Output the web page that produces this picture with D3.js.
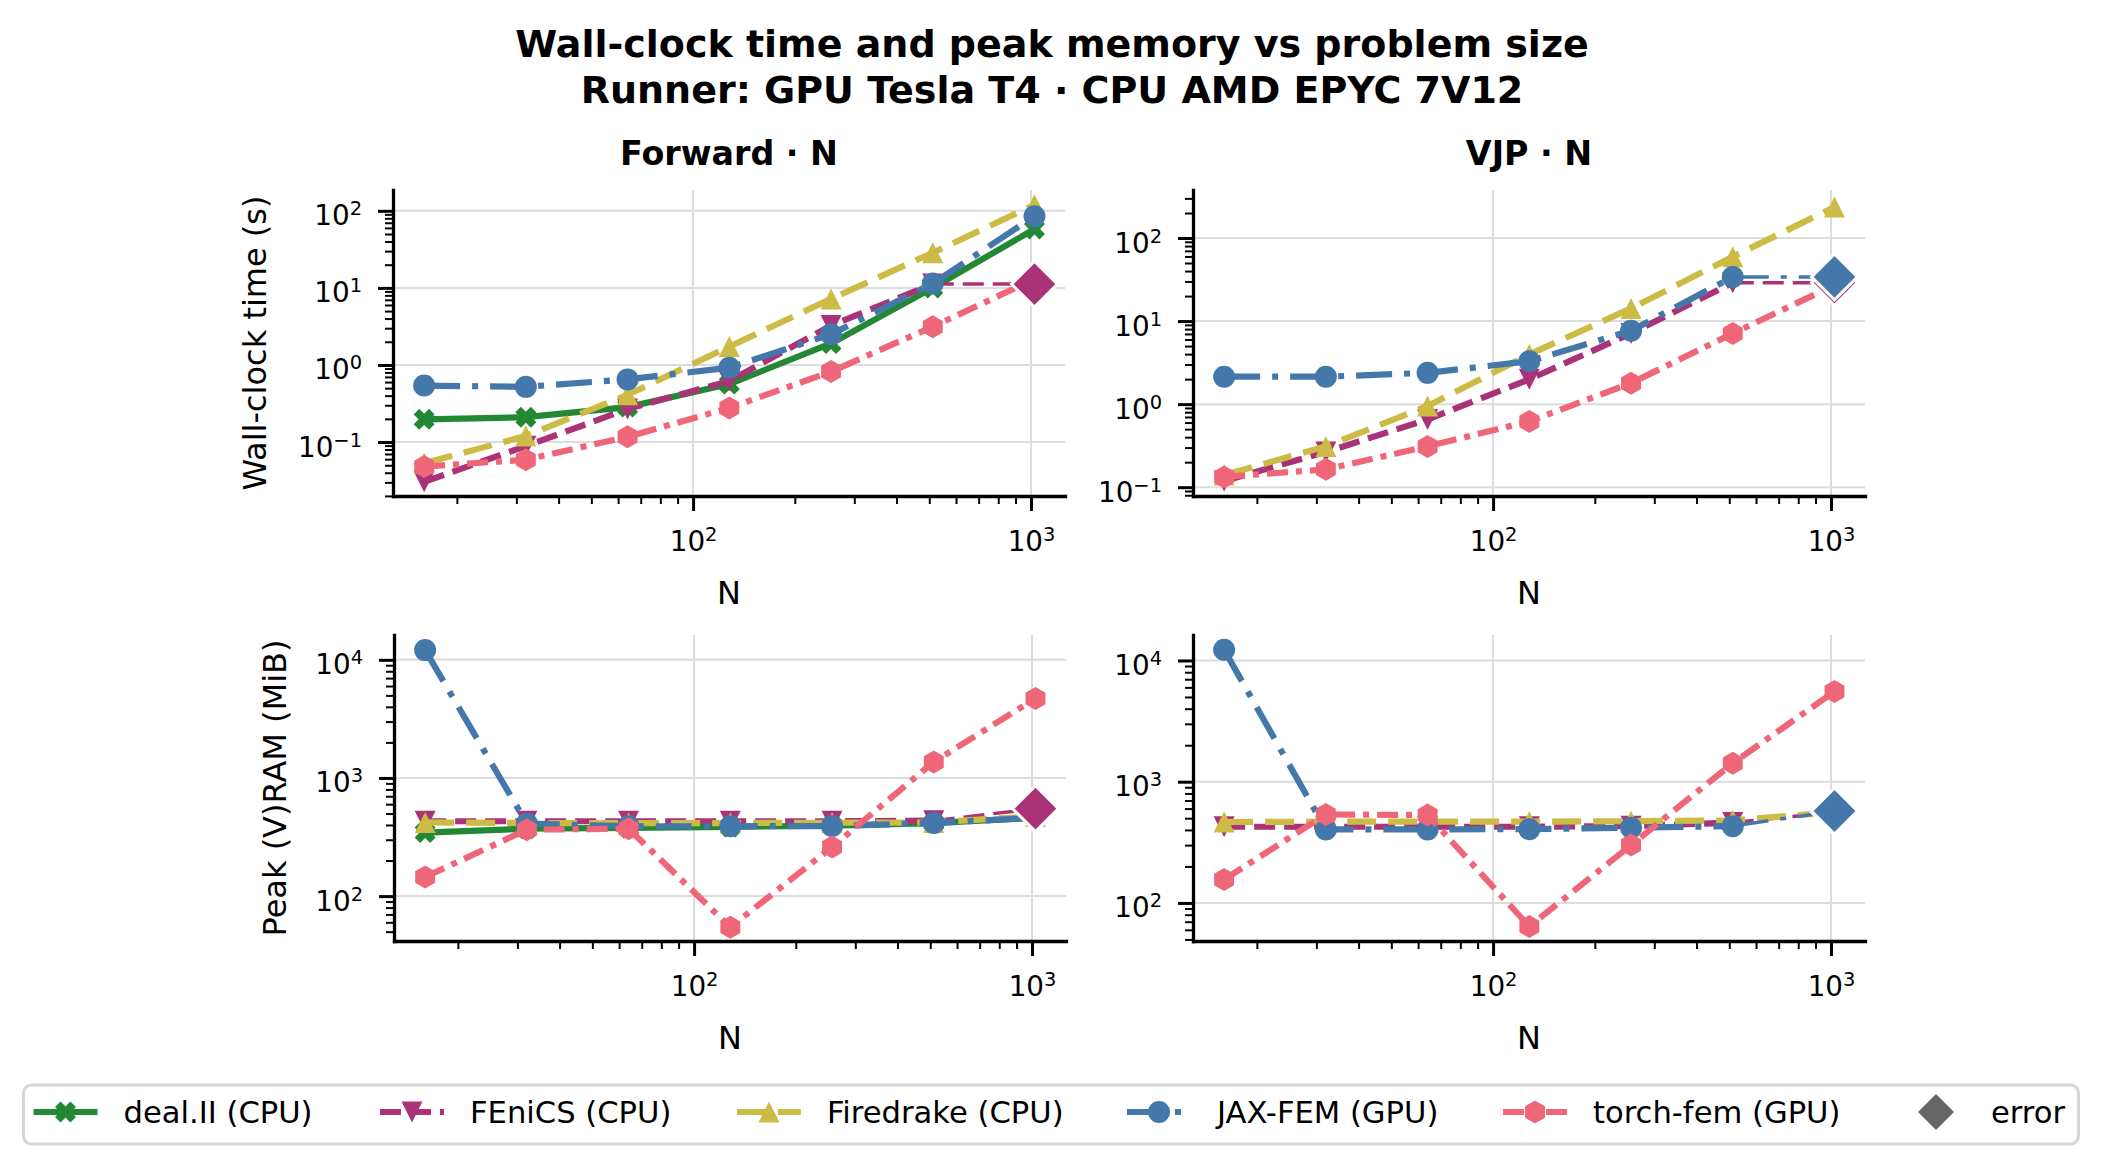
<!DOCTYPE html>
<html>
<head>
<meta charset="utf-8">
<script src="https://cdn.jsdelivr.net/npm/d3@7"></script>
<style>
  body { margin: 0; background: #fff; }
  svg { display: block; }
  text { font-family: "DejaVu Sans", sans-serif; fill: #000; }
</style>
</head>
<body>
<div id="container"></div>
<script>
"use strict";

// ---- data ----
const sizes = [16, 32, 64, 128, 256, 512, 1024];
const libraries = ["deal.II (CPU)", "FEniCS (CPU)", "Firedrake (CPU)", "JAX-FEM (GPU)", "torch-fem (GPU)"];
const libColors = ["#228833", "#AA3377", "#CCBB44", "#4477AA", "#EE6677"];

// rows follow `libraries`; null = no result
const fwdTime = [
  [0.197, 0.21, 0.284, 0.565, 1.9, 10, 58],
  [0.0305, 0.0885, 0.268, 0.62, 3.25, 11.2, null],
  [0.053, 0.12, 0.41, 1.73, 7.2, 28.6, 120],
  [0.54, 0.52, 0.65, 0.92, 2.5, 11.4, 85],
  [0.048, 0.059, 0.117, 0.277, 0.82, 3.14, 13],
];
const vjpTime = [
  [null, null, null, null, null, null, null],
  [0.119, 0.265, 0.653, 1.99, 7.1, 29, null],
  [0.14, 0.31, 0.95, 3.97, 14.2, 59.5, 236],
  [2.14, 2.14, 2.38, 3.28, 7.66, 34, null],
  [0.133, 0.164, 0.31, 0.62, 1.79, 7.1, 27],
];
const fwdMem = [
  [345, 372, 378, 385, 395, 415, 460],
  [430, 430, 430, 430, 430, 435, null],
  [420, 415, 415, 415, 418, 420, 475],
  [12080, 411, 390, 390, 392, 416, 460],
  [145, 365, 372, 54.6, 260, 1368, 4710],
];
const vjpMem = [
  [null, null, null, null, null, null, null],
  [425, 425, 425, 425, 430, 460, null],
  [465, 468, 468, 468, 472, 480, 560],
  [12250, 404, 404, 406, 417, 430, null],
  [156, 537, 531, 64, 300, 1420, 5550],
];

// error markers at N = 1024, per library
const errorN = 1024;
const fwdTimeErr = [null, 11.2, null, null, null];
const vjpTimeErr = [null, 29, null, 34, null];
const fwdMemErr = [null, 550, null, null, null];
const vjpMemErr = [null, 560, null, 573, null];

const panelTitles = ["Forward · N", "VJP · N"];
const yLabels = ["Wall-clock time (s)", "Peak (V)RAM (MiB)"];
const timeTicks = [0.1, 1, 10, 100];
const memTicks = [100, 1000, 10000];
const nTicks = [100, 1000];

// ---- style ----
const width = 2104;
const height = 1159;
const panelW = 672;
const panelH = 306;
const lineW = 6.2;
const markerTypes = ["X", "v", "^", "o", "h"];
const dashes = [null, "21,9", "29,12", "36,12,6,12", "21,8,6,8"];
const gridColor = "#dcdcdc";
const tickFont = 27.8;

const layout = [
  { x: 393, y: 190, yLog: [-1.70, 2.27], data: fwdTime, err: fwdTimeErr, ticks: timeTicks, title: panelTitles[0], ylabel: yLabels[0], ylabelX: 266 },
  { x: 1193, y: 190, yLog: [-1.106, 2.578], data: vjpTime, err: vjpTimeErr, ticks: timeTicks, title: panelTitles[1] },
  { x: 394, y: 635, yLog: [1.62, 4.21], data: fwdMem, err: fwdMemErr, ticks: memTicks, ylabel: yLabels[1], ylabelX: 286 },
  { x: 1193, y: 635, yLog: [1.686, 4.21], data: vjpMem, err: vjpMemErr, ticks: memTicks },
];

const markerPath = (type, r) => {
  if (type === "o") {
    return `M${r},0A${r},${r} 0 1,1 ${-r},0A${r},${r} 0 1,1 ${r},0Z`;
  }
  if (type === "v") return `M${-r},${-r}L${r},${-r}L0,${r}Z`;
  if (type === "^") return `M0,${-r}L${r},${r}L${-r},${r}Z`;
  if (type === "D") return `M0,${-r}L${r},0L0,${r}L${-r},0Z`;
  if (type === "h") {
    const pts = d3.range(6).map((k) => {
      const a = -Math.PI / 2 + (k * Math.PI) / 3;
      return [r * Math.cos(a), r * Math.sin(a)];
    });
    return "M" + pts.map((p) => p.join(",")).join("L") + "Z";
  }
  // filled X: a plus rotated 45 degrees
  const arm = (r * Math.SQRT2) / 1.36;
  const a = arm * 0.36;
  const plus = [[a, a], [a, arm], [-a, arm], [-a, a], [-arm, a], [-arm, -a],
    [-a, -a], [-a, -arm], [a, -arm], [a, -a], [arm, -a], [arm, a]];
  const rot = plus.map(([x, y]) => [(x - y) / Math.SQRT2, (x + y) / Math.SQRT2]);
  return "M" + rot.map((p) => p.join(",")).join("L") + "Z";
};

const markerSize = { X: 10.5, v: 10.5, "^": 10.5, o: 11, h: 11.5 };

const sciLabel = (sel, v, size) => {
  const e = Math.round(Math.log10(v));
  sel.text(null);
  sel.append("tspan").text("10");
  sel
    .append("tspan")
    .attr("font-size", size * 0.7)
    .attr("dy", -size * 0.36)
    .text(e < 0 ? "\u2212" + -e : e);
};

const svg = d3
  .select("#container")
  .append("svg")
  .attr("width", width)
  .attr("height", height);

svg.append("rect").attr("width", width).attr("height", height).attr("fill", "#fff");

// ---- figure title ----
svg
  .append("text")
  .attr("x", width / 2)
  .attr("y", 56.5)
  .attr("text-anchor", "middle")
  .attr("font-size", 38)
  .attr("font-weight", "bold")
  .text("Wall-clock time and peak memory vs problem size");

svg
  .append("text")
  .attr("x", width / 2)
  .attr("y", 102.5)
  .attr("text-anchor", "middle")
  .attr("font-size", 38)
  .attr("font-weight", "bold")
  .text("Runner: GPU Tesla T4 · CPU AMD EPYC 7V12");

const xScale = d3
  .scaleLog()
  .domain([10 ** 1.112, 10 ** 3.1006])
  .range([0, panelW]);

const minorTicks = (dom, majors) => {
  const out = [];
  for (let d = -3; d <= 5; d++) {
    for (let m = 2; m <= 9; m++) {
      const v = m * 10 ** d;
      if (v >= dom[0] && v <= dom[1]) out.push(v);
    }
  }
  return out.filter((v) => !majors.includes(v));
};

layout.forEach((p) => {
  const g = svg.append("g").attr("transform", `translate(${p.x}, ${p.y})`);

  const yScale = d3
    .scaleLog()
    .domain([10 ** p.yLog[0], 10 ** p.yLog[1]])
    .range([panelH, 0]);

  // grid
  g.selectAll(".gx")
    .data(nTicks)
    .enter()
    .append("line")
    .attr("x1", (d) => xScale(d))
    .attr("x2", (d) => xScale(d))
    .attr("y1", 0)
    .attr("y2", panelH)
    .attr("stroke", gridColor)
    .attr("stroke-width", 2);

  g.selectAll(".gy")
    .data(p.ticks)
    .enter()
    .append("line")
    .attr("x1", 0)
    .attr("x2", panelW)
    .attr("y1", (d) => yScale(d))
    .attr("y2", (d) => yScale(d))
    .attr("stroke", gridColor)
    .attr("stroke-width", 2);

  const line = d3
    .line()
    .x((d) => xScale(d[0]))
    .y((d) => yScale(d[1]));

  // series
  p.data.forEach((row, li) => {
    const pts = sizes.map((n, i) => [n, row[i]]).filter((d) => d[1] !== null);
    if (!pts.length) return;
    const color = libColors[li];

    g.append("path")
      .datum(pts)
      .attr("d", line)
      .attr("fill", "none")
      .attr("stroke", color)
      .attr("stroke-width", lineW)
      .attr("stroke-dasharray", dashes[li])
      .attr("stroke-linejoin", "round");

    if (p.err[li] !== null) {
      g.append("path")
        .datum([pts[pts.length - 1], [errorN, p.err[li]]])
        .attr("d", line)
        .attr("fill", "none")
        .attr("stroke", color)
        .attr("stroke-width", 3.5)
        .attr("stroke-dasharray", dashes[li]);
    }

    g.selectAll(null)
      .data(pts)
      .enter()
      .append("path")
      .attr("transform", (d) => `translate(${xScale(d[0])}, ${yScale(d[1])})`)
      .attr("d", markerPath(markerTypes[li], markerSize[markerTypes[li]]))
      .attr("fill", color);
  });

  // error diamonds on top
  p.err.forEach((v, li) => {
    if (v === null) return;
    g.append("path")
      .attr("transform", `translate(${xScale(errorN)}, ${yScale(v)})`)
      .attr("d", markerPath("D", 23))
      .attr("fill", libColors[li])
      .attr("stroke", "#fff")
      .attr("stroke-width", 3);
  });

  // axes
  const styleAxis = (ax, w) => {
    ax.attr("font-size", tickFont).attr("font-family", "DejaVu Sans");
    ax.select(".domain").attr("stroke-width", 3.3).attr("stroke-linecap", "square");
    ax.selectAll(".tick line").attr("stroke-width", w);
  };

  const yMinor = g.append("g").call(
    d3.axisLeft(yScale).tickValues(minorTicks(yScale.domain(), p.ticks)).tickSize(8).tickSizeOuter(0).tickFormat("")
  );
  styleAxis(yMinor, 2);
  yMinor.select(".domain").remove();

  const xMinor = g
    .append("g")
    .attr("transform", `translate(0, ${panelH})`)
    .call(d3.axisBottom(xScale).tickValues(minorTicks(xScale.domain(), nTicks)).tickSize(8).tickSizeOuter(0).tickFormat(""));
  styleAxis(xMinor, 2);
  xMinor.select(".domain").remove();

  const yAxis = g
    .append("g")
    .call(d3.axisLeft(yScale).tickValues(p.ticks).tickSize(15).tickSizeOuter(0).tickPadding(16));
  styleAxis(yAxis, 3);
  yAxis
    .selectAll(".tick text")
    .attr("dy", null)
    .attr("y", 14)
    .each(function (d) {
      sciLabel(d3.select(this), d, tickFont);
    });

  const xAxis = g
    .append("g")
    .attr("transform", `translate(0, ${panelH})`)
    .call(d3.axisBottom(xScale).tickValues(nTicks).tickSize(15).tickSizeOuter(0));
  styleAxis(xAxis, 3);
  xAxis
    .selectAll(".tick text")
    .attr("dy", null)
    .attr("y", 55)
    .each(function (d) {
      sciLabel(d3.select(this), d, tickFont);
    });

  g.append("text")
    .attr("x", panelW / 2)
    .attr("y", panelH + 107.5)
    .attr("text-anchor", "middle")
    .attr("font-size", 32)
    .text("N");

  if (p.title) {
    g.append("text")
      .attr("x", panelW / 2)
      .attr("y", -25)
      .attr("text-anchor", "middle")
      .attr("font-size", 33.3)
      .attr("font-weight", "bold")
      .text(p.title);
  }

  if (p.ylabel) {
    svg
      .append("text")
      .attr("text-anchor", "middle")
      .attr("transform", `translate(${p.ylabelX}, ${p.y + panelH / 2}) rotate(-90)`)
      .attr("font-size", 32)
      .text(p.ylabel);
  }
});

// ---- legend ----
const legend = svg.append("g");
legend
  .append("rect")
  .attr("x", 23.5)
  .attr("y", 1085)
  .attr("width", 2055)
  .attr("height", 59)
  .attr("rx", 8)
  .attr("fill", "#fff")
  .attr("stroke", "#d6d6d6")
  .attr("stroke-width", 3);

const legendX = [33.5, 380, 737, 1127, 1503];
const legendY = 1112;

libraries.forEach((name, li) => {
  const x0 = legendX[li];
  legend
    .append("line")
    .attr("x1", x0)
    .attr("x2", x0 + 64)
    .attr("y1", legendY)
    .attr("y2", legendY)
    .attr("stroke", libColors[li])
    .attr("stroke-width", lineW)
    .attr("stroke-dasharray", dashes[li]);
  legend
    .append("path")
    .attr("transform", `translate(${x0 + 32}, ${legendY})`)
    .attr("d", markerPath(markerTypes[li], markerSize[markerTypes[li]]))
    .attr("fill", libColors[li]);
  legend
    .append("text")
    .attr("x", x0 + 90)
    .attr("y", 1123)
    .attr("font-size", 30.6)
    .text(name);
});

legend
  .append("path")
  .attr("transform", `translate(1936, ${legendY})`)
  .attr("d", markerPath("D", 18))
  .attr("fill", "#666666");
legend
  .append("text")
  .attr("x", 1991)
  .attr("y", 1123)
  .attr("font-size", 30.6)
  .text("error");
</script>
</body>
</html>
